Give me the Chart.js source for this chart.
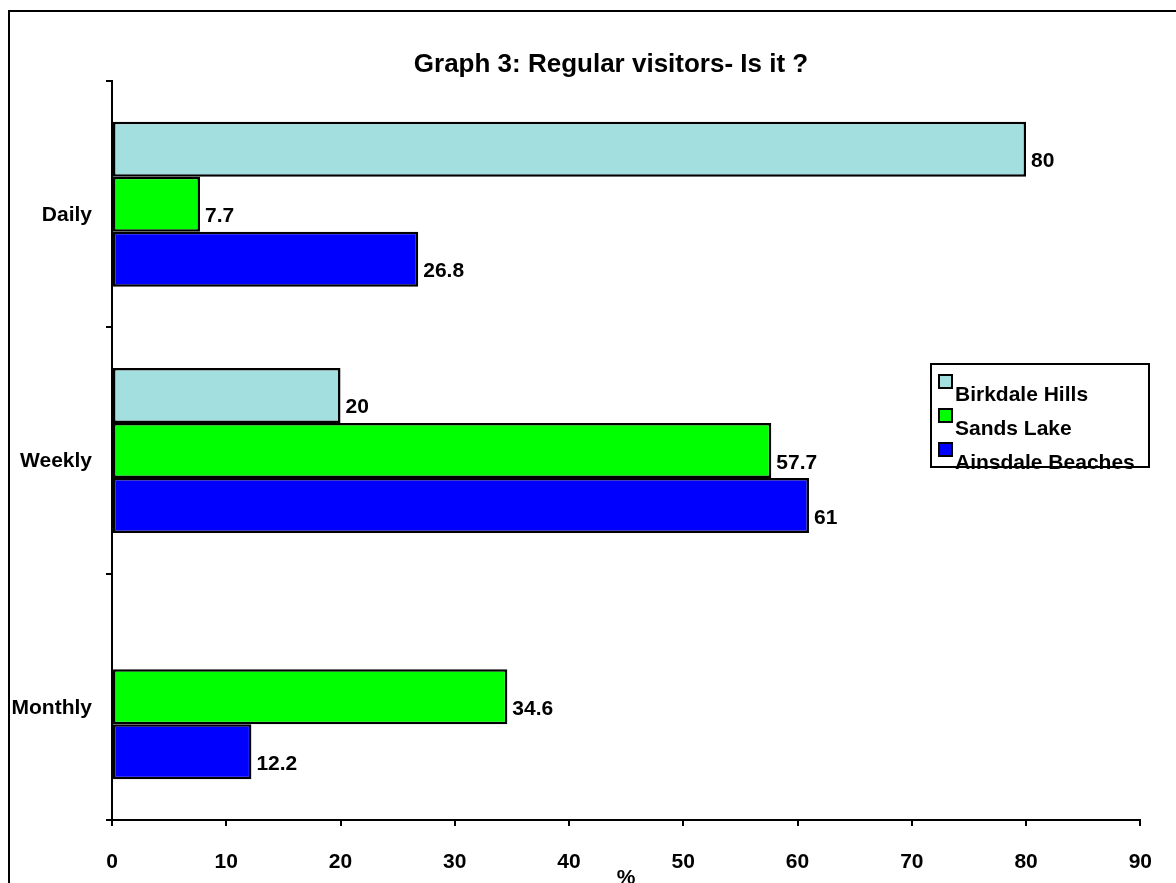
<!DOCTYPE html>
<html>
<head>
<meta charset="utf-8">
<title>Graph 3: Regular visitors- Is it ?</title>
<script src="https://cdn.jsdelivr.net/npm/chart.js@4"></script>
<style>
    html, body { margin: 0; padding: 0; background: #fff; overflow: hidden; }
    #wrap { width: 1176px; height: 905px; }
</style>
</head>
<body>
<div id="wrap"><canvas id="graph3" width="1176" height="905"></canvas></div>
<script>
var categories = ["Daily", "Weekly", "Monthly"]
var seriesNames = ["Birkdale Hills", "Sands Lake", "Ainsdale Beaches"]
var birkdaleHills = [80, 20, null]
var sandsLake = [7.7, 57.7, 34.6]
var ainsdaleBeaches = [26.8, 61, 12.2]
var xTicks = [0, 10, 20, 30, 40, 50, 60, 70, 80, 90]
var chartTitle = "Graph 3: Regular visitors- Is it ?"
var axisTitle = "%"

var colors = ["#A4DFDF", "#00FF00", "#0000FF"]
var font = "'Liberation Sans', Arial, sans-serif"

// outer frame + title
var framePlugin = {
    id: "frame",
    beforeDraw: function (chart) {
        var ctx = chart.ctx
        ctx.save()
        ctx.fillStyle = "#fff"
        ctx.fillRect(0, 0, chart.width, chart.height)
        ctx.strokeStyle = "#000"
        ctx.lineWidth = 2
        ctx.strokeRect(9, 11, 1400, 1200)
        ctx.fillStyle = "#000"
        ctx.font = "bold 26px " + font
        ctx.textAlign = "center"
        ctx.textBaseline = "alphabetic"
        ctx.fillText(chartTitle, 611, 72)
        ctx.restore()
    }
}

// value labels right of each bar
var valuePlugin = {
    id: "values",
    afterDatasetsDraw: function (chart) {
        var ctx = chart.ctx
        ctx.save()
        ctx.fillStyle = "#000"
        ctx.font = "bold 21px " + font
        ctx.textAlign = "left"
        ctx.textBaseline = "alphabetic"
        chart.data.datasets.forEach(function (ds, i) {
            var meta = chart.getDatasetMeta(i)
            meta.data.forEach(function (bar, j) {
                var v = ds.data[j]
                if (v === null || v === undefined) return
                ctx.fillText(String(v), bar.x + 5, bar.y + 18)
            })
        })
        ctx.restore()
    }
}

// legend box drawn inside the plot
var legendPlugin = {
    id: "boxLegend",
    afterDraw: function (chart) {
        var ctx = chart.ctx
        var x = 931, y = 364, w = 218, h = 103
        ctx.save()
        ctx.font = "bold 21px " + font
        ctx.textBaseline = "alphabetic"
        ctx.textAlign = "left"
        chart.data.datasets.forEach(function (ds, i) {
            var sy = 375 + i * 34
            ctx.fillStyle = ds.backgroundColor
            ctx.fillRect(939, sy, 13, 13)
            ctx.strokeStyle = "#000"
            ctx.lineWidth = 2
            ctx.strokeRect(939, sy, 13, 13)
            ctx.fillStyle = "#000"
            ctx.fillText(ds.label, 955, 401 + i * 34)
        })
        ctx.strokeStyle = "#000"
        ctx.lineWidth = 2
        ctx.strokeRect(x, y, w, h)
        ctx.restore()
    }
}

var datasets = [birkdaleHills, sandsLake, ainsdaleBeaches].map(function (vals, i) {
    return {
        label: seriesNames[i],
        data: vals,
        backgroundColor: colors[i],
        borderColor: "#000",
        borderWidth: 2.5,
        borderSkipped: false,
        inflateAmount: 0,
        categoryPercentage: 0.67,
        barPercentage: 1
    }
})

var ctx = document.getElementById("graph3").getContext("2d")
var myChart = new Chart(ctx, {
    type: "bar",
    data: {
        labels: categories,
        datasets: datasets
    },
    options: {
        indexAxis: "y",
        responsive: false,
        animation: false,
        layout: { padding: { left: 0, top: 81, right: 34, bottom: 0 } },
        plugins: {
            legend: { display: false },
            title: { display: false },
            tooltip: { enabled: false }
        },
        scales: {
            x: {
                min: 0,
                max: 90,
                afterBuildTicks: function (scale) {
                    scale.ticks = xTicks.map(function (v) { return { value: v } })
                },
                afterFit: function (scale) { scale.height = 85 },
                grid: { drawOnChartArea: false, drawTicks: true, tickLength: 6, color: "#000", lineWidth: 2 },
                border: { display: true, color: "#000", width: 2 },
                ticks: {
                    color: "#000",
                    padding: 24,
                    font: { family: font, size: 21, weight: "bold" }
                },
                title: {
                    display: true,
                    text: axisTitle,
                    color: "#000",
                    padding: { top: 0, bottom: 14 },
                    font: { family: font, size: 21, weight: "bold" }
                }
            },
            y: {
                afterFit: function (scale) { scale.width = 112 },
                grid: { offset: true, drawOnChartArea: false, drawTicks: true, tickLength: 6, color: "#000", lineWidth: 2 },
                border: { display: true, color: "#000", width: 2 },
                ticks: {
                    color: "#000",
                    padding: 14,
                    labelOffset: 11,
                    font: { family: font, size: 21, weight: "bold" }
                }
            }
        }
    },
    plugins: [framePlugin, valuePlugin, legendPlugin]
})
</script>
</body>
</html>
